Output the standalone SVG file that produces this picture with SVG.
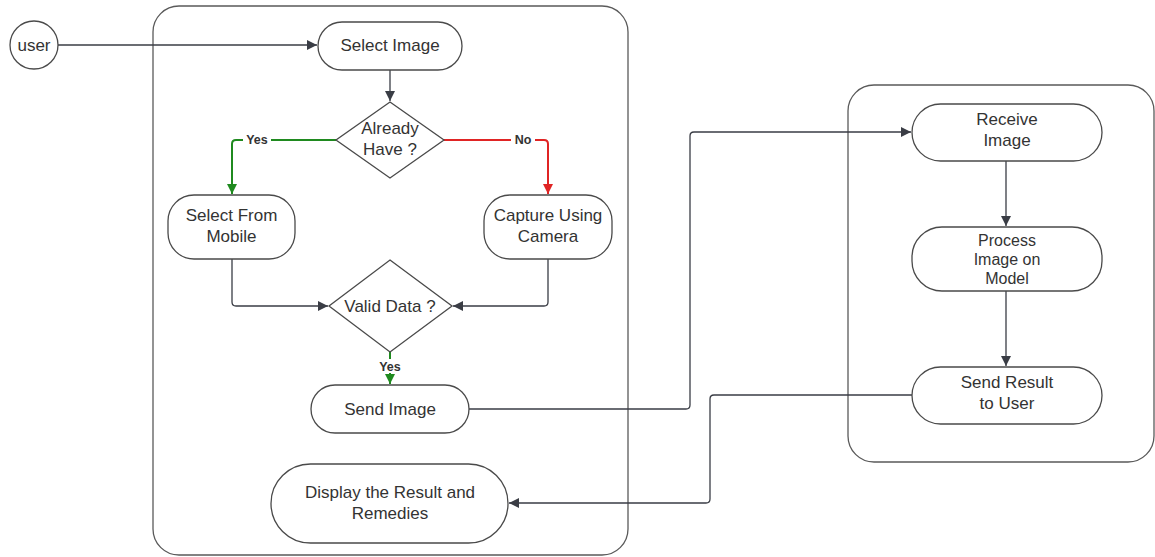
<svg xmlns="http://www.w3.org/2000/svg" width="1155" height="557" viewBox="0 0 1155 557">
  <style>
    .box { fill: #ffffff; stroke: #4a4a4a; stroke-width: 1.3; }
    .lane { fill: none; stroke: #5a5a5a; stroke-width: 1.3; }
    .txt { font-family: "Liberation Sans", Arial, sans-serif; font-size: 17px; fill: #333333; text-anchor: middle; }
    .small { font-size: 16px; }
    .lbl { font-family: "Liberation Sans", Arial, sans-serif; font-size: 12.5px; font-weight: bold; fill: #333333; text-anchor: middle; }
    .con { fill: none; stroke: #3a3d45; stroke-width: 1.3; }
    .yes { fill: none; stroke: #1f8a1f; stroke-width: 2; }
    .no { fill: none; stroke: #e02424; stroke-width: 2; }
  </style>
  <defs>
    <marker id="arr" viewBox="0 0 10 10" refX="10" refY="5" markerWidth="10" markerHeight="10" markerUnits="userSpaceOnUse" orient="auto">
      <path d="M0,0 L10,5 L0,10 z" fill="#3a3d45"/>
    </marker>
    <marker id="arrG" viewBox="0 0 10 10" refX="10" refY="5" markerWidth="10" markerHeight="10" markerUnits="userSpaceOnUse" orient="auto">
      <path d="M0,0 L10,5 L0,10 z" fill="#1f8a1f"/>
    </marker>
    <marker id="arrR" viewBox="0 0 10 10" refX="10" refY="5" markerWidth="10" markerHeight="10" markerUnits="userSpaceOnUse" orient="auto">
      <path d="M0,0 L10,5 L0,10 z" fill="#e02424"/>
    </marker>
  </defs>

  <rect width="1155" height="557" fill="#ffffff"/>

  <!-- containers -->
  <g id="client-lane">
    <rect class="lane" x="153" y="6" width="475" height="549" rx="26"/>
  </g>
  <g id="server-lane">
    <rect class="lane" x="848" y="85" width="306" height="377" rx="26"/>
  </g>

  <!-- connectors -->
  <g id="connectors">
    <path class="con" d="M58,45 H317" marker-end="url(#arr)"/>
    <path class="con" d="M390,70 V101" marker-end="url(#arr)"/>
    <path class="yes" d="M336,140 H236 Q232,140 232,144 V194" marker-end="url(#arrG)"/>
    <path class="no" d="M444,140 H544 Q548,140 548,144 V194" marker-end="url(#arrR)"/>
    <path class="con" d="M232,259 V302 Q232,306 236,306 H328" marker-end="url(#arr)"/>
    <path class="con" d="M548,259 V302 Q548,306 544,306 H453" marker-end="url(#arr)"/>
    <path class="yes" d="M390,352 V384" marker-end="url(#arrG)"/>
    <path class="con" d="M469,409 H686 Q690,409 690,405 V136 Q690,132 694,132 H911" marker-end="url(#arr)"/>
    <path class="con" d="M1006,161 V226" marker-end="url(#arr)"/>
    <path class="con" d="M1006,291 V366" marker-end="url(#arr)"/>
    <path class="con" d="M912,395 H714 Q710,395 710,399 V499 Q710,503 706,503 H509" marker-end="url(#arr)"/>
    <!-- branch labels -->
    <rect x="243" y="132" width="28" height="14" fill="#ffffff"/>
    <text class="lbl" x="257" y="143.5">Yes</text>
    <rect x="511" y="132" width="24" height="14" fill="#ffffff"/>
    <text class="lbl" x="523" y="143.5">No</text>
    <rect x="375" y="359" width="30" height="14" fill="#ffffff"/>
    <text class="lbl" x="390" y="370.5">Yes</text>
  </g>

  <!-- nodes -->
  <g id="user">
    <circle class="box" cx="34" cy="45" r="24"/>
    <text class="txt" x="34" y="51">user</text>
  </g>
  <g id="select-image">
    <rect class="box" x="318" y="22" width="144" height="48" rx="24"/>
    <text class="txt" x="390" y="51">Select Image</text>
  </g>
  <g id="already-have">
    <path class="box" d="M390,102 L444,140 L390,178 L336,140 z"/>
    <text class="txt" x="390" y="134">Already</text>
    <text class="txt" x="390" y="155">Have ?</text>
  </g>
  <g id="select-from-mobile">
    <rect class="box" x="168" y="195" width="127" height="64" rx="26"/>
    <text class="txt" x="231.5" y="221">Select From</text>
    <text class="txt" x="231.5" y="242">Mobile</text>
  </g>
  <g id="capture-using-camera">
    <rect class="box" x="484" y="195" width="128" height="64" rx="26"/>
    <text class="txt" x="548" y="221">Capture Using</text>
    <text class="txt" x="548" y="242">Camera</text>
  </g>
  <g id="valid-data">
    <path class="box" d="M390,260 L452,306 L390,352 L329,306 z"/>
    <text class="txt" x="390" y="312">Valid Data ?</text>
  </g>
  <g id="send-image">
    <rect class="box" x="311" y="385" width="158" height="48" rx="24"/>
    <text class="txt" x="390" y="415">Send Image</text>
  </g>
  <g id="display-result">
    <rect class="box" x="271" y="464" width="237" height="79" rx="39.5"/>
    <text class="txt" x="390" y="498">Display the Result and</text>
    <text class="txt" x="390" y="519">Remedies</text>
  </g>
  <g id="receive-image">
    <rect class="box" x="912" y="104" width="190" height="57" rx="28.5"/>
    <text class="txt" x="1007" y="125">Receive</text>
    <text class="txt" x="1007" y="146">Image</text>
  </g>
  <g id="process-image">
    <rect class="box" x="912" y="227" width="190" height="64" rx="30"/>
    <text class="txt small" x="1007" y="246">Process</text>
    <text class="txt small" x="1007" y="265">Image on</text>
    <text class="txt small" x="1007" y="284">Model</text>
  </g>
  <g id="send-result">
    <rect class="box" x="912" y="367" width="190" height="57" rx="28.5"/>
    <text class="txt" x="1007" y="388">Send Result</text>
    <text class="txt" x="1007" y="409">to User</text>
  </g>
</svg>
